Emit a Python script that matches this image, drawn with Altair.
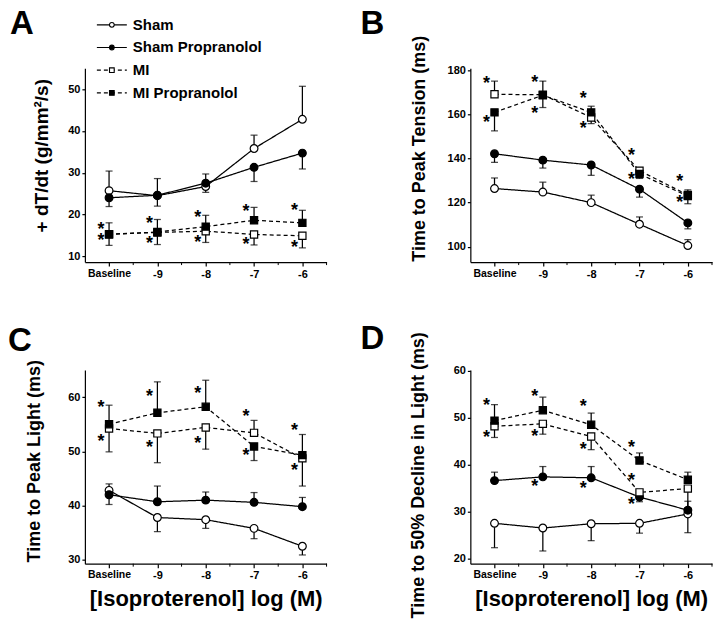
import altair as alt
import pandas as pd

# ---------------- data ----------------
X_VALUES = [-10, -9, -8, -7, -6]
X_LABELS = ["Baseline", "-9", "-8", "-7", "-6"]
MINOR_X = [-9.5, -8.5, -7.5, -6.5, -5.5]
SERIES = ["Sham", "Sham Propranolol", "MI", "MI Propranolol"]

# Panel A: +dT/dt
A_SHAM = [25.7, 24.5, 26.7, 35.8, 42.8]
A_SHAM_ERR = [30.4, 28.6, 25.3, 39.0, 50.7]
A_SHAMP = [24.0, 24.6, 27.5, 31.3, 34.7]
A_SHAMP_ERR = [21.9, 22.0, 29.7, 27.9, 30.9]
A_MI = [15.3, 15.7, 16.0, 15.2, 14.9]
A_MI_ERR = [12.6, 12.8, 13.3, 12.7, 12.0]
A_MIP = [15.2, 15.8, 17.1, 18.6, 18.0]
A_MIP_ERR = [18.0, 18.8, 19.8, 21.7, 21.0]
A_STAR_X = [-10, -10, -9, -9, -8, -8, -7, -7, -6, -6]
A_STAR_Y = [17.2, 14.6, 18.7, 13.8, 20.1, 14.2, 21.6, 13.7, 21.9, 12.9]

# Panel B: time to peak tension
B_SHAM = [126.4, 124.8, 120.0, 110.2, 100.5]
B_SHAM_ERR = [131.2, 129.3, 123.4, 113.5, 103.2]
B_SHAMP = [142.2, 139.3, 137.1, 126.1, 110.8]
B_SHAMP_ERR = [138.3, 135.7, 132.4, 122.5, 108.1]
B_MI = [169.2, 169.0, 158.7, 134.5, 123.5]
B_MI_ERR = [175.2, 163.2, 155.9, 131.0, 119.5]
B_MIP = [161.0, 168.8, 161.0, 133.0, 123.0]
B_MIP_ERR = [152.6, 175.2, 163.8, 135.7, 125.8]
B_STAR_X = [-10, -10, -9, -9, -8, -8, -7, -7, -6, -6]
B_STAR_Y = [175.6, 157.8, 176.0, 162.0, 168.8, 155.3, 143.2, 132.3, 131.0, 121.5]

# Panel C: time to peak light
C_SHAM = [42.8, 37.8, 37.4, 35.8, 32.5]
C_SHAM_ERR = [44.0, 35.2, 35.8, 33.9, 30.9]
C_SHAMP = [42.0, 40.7, 41.0, 40.6, 39.8]
C_SHAMP_ERR = [40.2, 43.6, 42.5, 42.4, 41.5]
C_MI = [54.2, 53.3, 54.4, 53.4, 48.7]
C_MI_ERR = [49.9, 47.9, 50.4, 55.7, 43.6]
C_MIP = [55.0, 57.1, 58.2, 50.9, 49.3]
C_MIP_ERR = [58.5, 62.8, 63.1, 48.3, 53.1]
C_STAR_X = [-10, -10, -9, -9, -8, -8, -7, -7, -6, -6]
C_STAR_Y = [58.7, 52.4, 60.8, 51.4, 61.3, 52.0, 57.1, 49.8, 54.4, 47.1]

# Panel D: time to 50% decline in light
D_SHAM = [27.5, 26.5, 27.4, 27.5, 29.5]
D_SHAM_ERR = [22.3, 21.6, 23.8, 25.4, 25.5]
D_SHAMP = [36.6, 37.4, 37.2, 33.1, 30.3]
D_SHAMP_ERR = [38.4, 39.6, 39.6, 32.1, 32.2]
D_MI = [48.2, 48.7, 46.0, 34.1, 34.9]
D_MI_ERR = [45.8, 46.5, 43.2, 32.8, 30.8]
D_MIP = [49.4, 51.6, 48.5, 40.9, 36.8]
D_MIP_ERR = [52.8, 54.4, 51.0, 42.5, 38.4]
D_STAR_X = [-10, -10, -9, -9, -9, -8, -8, -8, -7, -7, -7]
D_STAR_Y = [53.3, 46.5, 55.2, 46.7, 36.1, 53.1, 43.9, 35.7, 44.5, 37.4, 32.2]

# ---------------- styling ----------------
FONT = "Liberation Sans"
W = 242
H = 194
SHAPES = ["circle", "circle", "square", "square"]
FILLS = ["white", "black", "white", "black"]
DASHES = [[1, 0], [1, 0], [4, 3], [4, 3]]

label_expr = ""
for v, lab in zip(X_VALUES, X_LABELS):
    label_expr += f"datum.value == {v} ? '{lab}' : "
label_expr += "''"


def legend_block():
    leg_df = pd.DataFrame({"series": SERIES})
    ly = alt.Y("series:N", scale=alt.Scale(domain=SERIES, range=[-55, 36]), axis=None)
    c = alt.Chart(leg_df)
    lines = c.mark_rule(color="black", strokeWidth=1.2).encode(
        x=alt.value(12), x2=alt.value(42), y=ly,
        strokeDash=alt.StrokeDash("series:N", scale=alt.Scale(domain=SERIES, range=DASHES), legend=None))
    marks = c.mark_point(filled=True, stroke="black", strokeWidth=1.1, size=22, opacity=1).encode(
        x=alt.value(27), y=ly,
        shape=alt.Shape("series:N", scale=alt.Scale(domain=SERIES, range=SHAPES), legend=None),
        fill=alt.Fill("series:N", scale=alt.Scale(domain=SERIES, range=FILLS), legend=None))
    labels = c.mark_text(align="left", baseline="middle", font=FONT, fontSize=15,
                         fontWeight="bold", color="black").encode(
        x=alt.value(48), y=ly, text="series:N")
    return alt.layer(lines, marks, labels)


def panel(letter, means, errs, star_x, star_y, ydomain, yticks, ytitle,
          ytitle_size, ytitle_pad, ytitle_y, letter_x, letter_y,
          xtitle=None, legend=False):
    rows = []
    for s, m, e in zip(SERIES, means, errs):
        for x, v, ev in zip(X_VALUES, m, e):
            rows.append({"x": x, "series": s, "mean": v, "err": ev})
    df = pd.DataFrame(rows)
    stars = pd.DataFrame({"sx": star_x, "sy": star_y})
    minor = pd.DataFrame({"v": MINOR_X})

    xs = alt.Scale(domain=[-10.5, -5.5], nice=False, zero=False)
    ys = alt.Scale(domain=ydomain, nice=False, zero=False)
    xaxis_kw = dict(values=X_VALUES, labelExpr=label_expr, tickSize=4,
                    labelFontSize={"condition": {"test": "datum.value == -10", "value": 10.5}, "value": 11},
                    labelPadding=2)
    if xtitle:
        xaxis = alt.Axis(title=xtitle, titleFontSize=22, titlePadding=8, **xaxis_kw)
    else:
        xaxis = alt.Axis(title=None, **xaxis_kw)
    yaxis = alt.Axis(values=yticks, title=ytitle, titleFontSize=ytitle_size,
                     titlePadding=ytitle_pad, titleY=ytitle_y, tickSize=3,
                     labelFontSize=11, labelPadding=2)

    X = lambda f: alt.X(f, scale=xs, axis=xaxis)
    Y = lambda f: alt.Y(f, scale=ys, axis=yaxis)

    base = alt.Chart(df)
    layers = [
        base.mark_rule(color="black", strokeWidth=1.25).encode(x=X("x:Q"), y=Y("mean:Q"), y2="err:Q"),
        base.mark_tick(color="black", thickness=1.25, size=7, orient="horizontal").encode(x=X("x:Q"), y=Y("err:Q")),
        base.mark_line(color="black", strokeWidth=1.25).encode(
            x=X("x:Q"), y=Y("mean:Q"), detail="series:N",
            strokeDash=alt.StrokeDash("series:N", scale=alt.Scale(domain=SERIES, range=DASHES), legend=None)),
    ]
    for s, shp, fl in zip(SERIES, SHAPES, FILLS):
        layers.append(
            base.transform_filter(alt.datum.series == s)
            .mark_point(shape=shp, filled=True, fill=fl, stroke="black", strokeWidth=1.2,
                        size=60 if shp == "circle" else 52, opacity=1)
            .encode(x=X("x:Q"), y=Y("mean:Q"))
        )
    layers.append(
        alt.Chart(stars).mark_text(text="*", font=FONT, fontSize=18, fontWeight="bold",
                                   dx=-8, dy=4, baseline="middle", align="center", color="black")
        .encode(x=X("sx:Q"), y=Y("sy:Q"))
    )
    layers.append(
        alt.Chart(minor).mark_rule(color="black", strokeWidth=1)
        .encode(x=X("v:Q"), y=alt.value(H), y2=alt.value(H + 3))
    )
    layers.append(
        alt.Chart(pd.DataFrame({"t": [letter]})).mark_text(
            font=FONT, fontSize=33, fontWeight="bold", color="black",
            align="left", baseline="alphabetic")
        .encode(text="t:N", x=alt.value(letter_x), y=alt.value(letter_y))
    )
    main = alt.layer(*layers)
    if legend:
        main = alt.layer(main, legend_block()).resolve_scale(y="independent")
    return main.properties(width=W, height=H)


pA = panel("A", [A_SHAM, A_SHAMP, A_MI, A_MIP], [A_SHAM_ERR, A_SHAMP_ERR, A_MI_ERR, A_MIP_ERR],
           A_STAR_X, A_STAR_Y, [8.6, 55], [10, 20, 30, 40, 50], "+ dT/dt (g/mm²/s)",
           19, 16, 87, -75, -34, legend=True)
pB = panel("B", [B_SHAM, B_SHAMP, B_MI, B_MIP], [B_SHAM_ERR, B_SHAMP_ERR, B_MI_ERR, B_MIP_ERR],
           B_STAR_X, B_STAR_Y, [93, 181], [100, 120, 140, 160, 180], "Time to Peak Tension (ms)",
           18, 19, 80, -110, -34)
pC = panel("C", [C_SHAM, C_SHAMP, C_MI, C_MIP], [C_SHAM_ERR, C_SHAMP_ERR, C_MI_ERR, C_MIP_ERR],
           C_STAR_X, C_STAR_Y, [29.3, 65], [30, 40, 50, 60], "Time to Peak Light (ms)",
           18, 24, 91, -77, -19, xtitle="[Isoproterenol] log (M)")
pD = panel("D", [D_SHAM, D_SHAMP, D_MI, D_MIP], [D_SHAM_ERR, D_SHAMP_ERR, D_MI_ERR, D_MIP_ERR],
           D_STAR_X, D_STAR_Y, [18.9, 60.2], [20, 30, 40, 50, 60], "Time to 50% Decline in Light (ms)",
           18, 26, 105, -110, -21, xtitle="[Isoproterenol] log (M)")

chart = (
    alt.concat(pA, pB, pC, pD, columns=2, spacing={"row": 108, "column": 144}, bounds="flush")
    .properties(padding={"left": 0, "top": 0, "right": 0, "bottom": 0}, background="white")
    .configure(font=FONT)
    .configure_view(strokeWidth=0)
    .configure_axis(grid=False, domainColor="black", domainWidth=1.2, tickColor="black",
                    tickWidth=1.2, labelFont=FONT, labelFontWeight="bold", labelColor="black",
                    titleFont=FONT, titleFontWeight="bold", titleColor="black")
)

chart.save("out.html", embed_options={"renderer": "svg", "actions": False})
